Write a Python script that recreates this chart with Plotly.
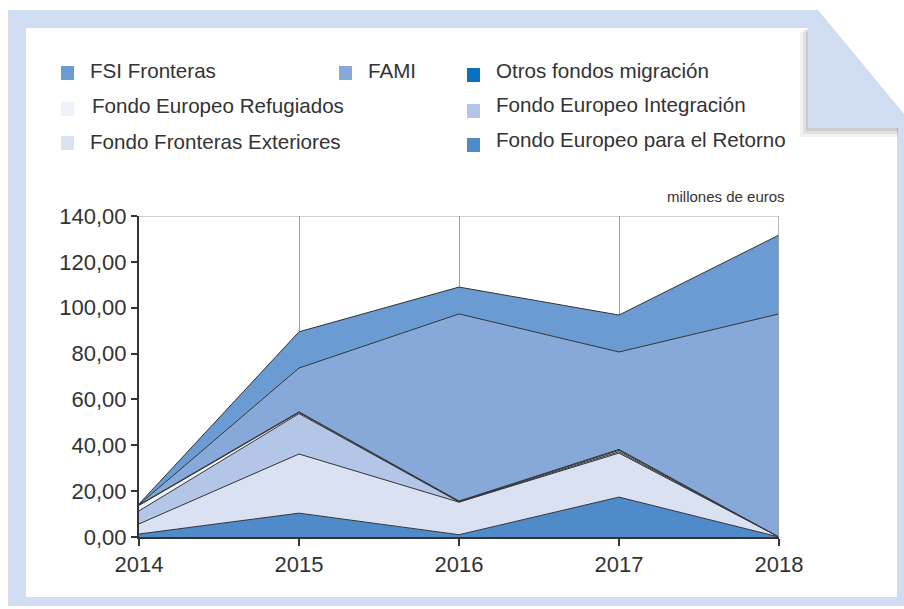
import plotly.graph_objects as go

W, H = 904, 609

years = [2014, 2015, 2016, 2017, 2018]

# stacked from bottom to top (millones de euros)
retorno = [1.3, 10.4, 1.0, 17.4, 0.0]
fronteras_ext = [4.4, 25.8, 14.2, 19.2, 0.0]
integracion = [5.7, 17.6, 0.1, 0.6, 0.0]
refugiados = [2.4, 0.5, 0.2, 0.6, 0.0]
otros = [0.2, 0.3, 0.2, 0.4, 0.0]
fami = [0.1, 19.1, 81.6, 42.5, 97.3]
fsi = [0.3, 15.8, 11.7, 16.1, 34.4]

names = ["Fondo Europeo para el Retorno", "Fondo Fronteras Exteriores",
         "Fondo Europeo Integración", "Fondo Europeo Refugiados",
         "Otros fondos migración", "FAMI", "FSI Fronteras"]
series = [retorno, fronteras_ext, integracion, refugiados, otros, fami, fsi]
colors = ["#4f8bc9", "#d9e1f3", "#b3c6e7", "#eef2fb", "#0a70bf", "#87a9d9", "#6a9bd3"]

ytick_vals = [0, 20, 40, 60, 80, 100, 120, 140]
ytick_text = ["0,00", "20,00", "40,00", "60,00", "80,00", "100,00", "120,00", "140,00"]

def px(x):
    return x / W

def py(y):
    return 1 - y / H

fig = go.Figure()
for name, vals, col in zip(names, series, colors):
    fig.add_trace(go.Scatter(
        x=years, y=vals, name=name, mode="lines", stackgroup="one",
        fillcolor=col, line=dict(color="#333333", width=1),
        showlegend=False, hoverinfo="x+y+name"))

FONT = "Liberation Sans, Arial, sans-serif"
TXT = "#333333"
FRAME = "#d0dcf1"

shapes = [
    # frame
    dict(type="rect", xref="paper", yref="paper", x0=px(8), x1=px(904), y0=py(606), y1=py(10),
         fillcolor=FRAME, line=dict(width=0), layer="below"),
    dict(type="rect", xref="paper", yref="paper", x0=px(26), x1=px(897), y0=py(597), y1=py(28),
         fillcolor="white", line=dict(width=0), layer="below"),
    # fold shadow
    dict(type="rect", xref="paper", yref="paper", x0=px(800), x1=px(898), y0=py(137), y1=py(32),
         fillcolor="rgba(0,0,0,0.05)", line=dict(width=0), layer="below"),
    dict(type="rect", xref="paper", yref="paper", x0=px(803), x1=px(898), y0=py(134), y1=py(30),
         fillcolor="rgba(0,0,0,0.07)", line=dict(width=0), layer="below"),
    dict(type="rect", xref="paper", yref="paper", x0=px(806), x1=px(898), y0=py(131), y1=py(29),
         fillcolor="rgba(0,0,0,0.09)", line=dict(width=0), layer="below"),
    # fold
    dict(type="rect", xref="paper", yref="paper", x0=px(808), x1=px(904), y0=py(128), y1=py(27),
         fillcolor=FRAME, line=dict(width=0), layer="below"),
    dict(type="path", xref="paper", yref="paper",
         path=f"M {px(818)},{py(10)} L {px(904)},{py(10)} L {px(904)},{py(114)} Z",
         fillcolor="white", line=dict(width=0), layer="below"),
    # top & right plot border
    dict(type="line", xref="x", yref="y", x0=2014, x1=2018, y0=140, y1=140,
         line=dict(color="#a0a0a0", width=1.2), layer="above"),
    dict(type="line", xref="x", yref="y", x0=2018, x1=2018, y0=0, y1=140,
         line=dict(color="#a0a0a0", width=1.5), layer="above"),
]

annotations = [
    dict(text="millones de euros", xref="paper", yref="paper", x=px(787), y=py(197),
         xanchor="right", yanchor="middle", showarrow=False,
         font=dict(family=FONT, size=15, color=TXT)),
]

# legend (custom, three columns)
legend_items = [
    ("FSI Fronteras", colors[6], 61, 73, 88, 71),
    ("FAMI", colors[5], 339, 73, 366, 71),
    ("Otros fondos migración", colors[4], 467, 75, 494, 71),
    ("Fondo Europeo Refugiados", colors[3], 61, 109, 90, 105),
    ("Fondo Europeo Integración", colors[2], 467, 111, 494, 104),
    ("Fondo Fronteras Exteriores", colors[1], 61, 143, 88, 141),
    ("Fondo Europeo para el Retorno", colors[0], 467, 145, 494, 140),
]
for label, col, sx, sy, tx, ty in legend_items:
    shapes.append(dict(type="rect", xref="paper", yref="paper",
                       x0=px(sx), x1=px(sx + 13), y0=py(sy + 7), y1=py(sy - 7),
                       fillcolor=col, line=dict(width=0)))
    annotations.append(dict(text=label, xref="paper", yref="paper", x=px(tx), y=py(ty),
                            xanchor="left", yanchor="middle", showarrow=False,
                            font=dict(family=FONT, size=20.6, color=TXT)))

fig.update_layout(
    template="none",
    width=W, height=H,
    margin=dict(l=0, r=0, t=0, b=0, pad=0, autoexpand=False),
    paper_bgcolor="white", plot_bgcolor="rgba(0,0,0,0)",
    font=dict(family=FONT, color=TXT),
    shapes=shapes, annotations=annotations,
    showlegend=False,
    xaxis=dict(domain=[px(139), px(779)], range=[2014, 2018], tickvals=years,
               ticktext=[str(y) for y in years], automargin=False,
               showgrid=True, gridcolor="#a0a0a0", gridwidth=1,
               showline=True, linecolor="#333333", linewidth=2,
               ticks="outside", ticklen=7, tickcolor="#333333", tickwidth=2,
               tickfont=dict(family=FONT, size=22, color=TXT), zeroline=False,
               fixedrange=True),
    yaxis=dict(domain=[py(537), py(216)], range=[0, 140], tickvals=ytick_vals,
               ticktext=ytick_text, showgrid=False, automargin=False,
               showline=True, linecolor="#333333", linewidth=2,
               ticks="outside", ticklen=6, tickcolor="#333333", tickwidth=1.5,
               tickfont=dict(family=FONT, size=22, color=TXT), zeroline=False,
               fixedrange=True),
)

fig.write_html("out.html", config={"displayModeBar": False},
               post_script="document.body.style.margin='0';document.body.style.overflow='hidden';")
